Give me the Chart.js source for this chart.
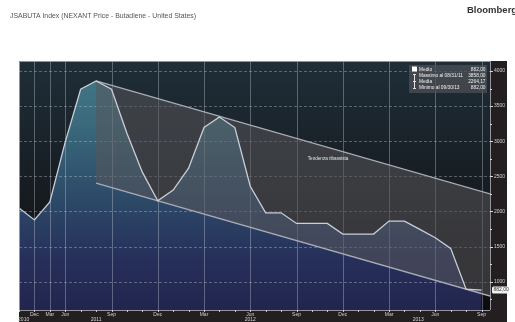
<!DOCTYPE html>
<html>
<head>
<meta charset="utf-8">
<script src="https://cdn.jsdelivr.net/npm/chart.js@4/dist/chart.umd.min.js"></script>
<style>
  html, body { margin: 0; padding: 0; background: #ffffff; }
  canvas { display: block; }
</style>
</head>
<body>
<canvas id="c" width="515" height="322"></canvas>
<script>
// Monthly slots (quarterly until mid-2011, monthly afterwards)
const slotIndex = [0,1,2,3,4,5,6,7,8,9,10,11,12,13,14,15,16,17,18,19,20,21,22,23,24,25,26,27,28,29,30];
const slotDates = ['Sep 2010','Dec 2010','Mar 2011','Jun 2011','Jul 2011','Aug 2011','Sep 2011','Oct 2011',
  'Nov 2011','Dec 2011','Jan 2012','Feb 2012','Mar 2012','Apr 2012','May 2012','Jun 2012','Jul 2012',
  'Aug 2012','Sep 2012','Oct 2012','Nov 2012','Dec 2012','Jan 2013','Feb 2013','Mar 2013','Apr 2013',
  'May 2013','Jun 2013','Jul 2013','Aug 2013','Sep 2013'];
// NEXANT butadiene price, United States
const priceValues = [2050,1880,2135,2990,3740,3858,3740,3115,2560,2152,2304,2617,3195,3346,3195,2360,
  1981,1981,1830,1830,1830,1678,1678,1678,1863,1863,1745,1626,1475,895,882];

// Descending trend channel
const channelX = [5, 30.55];
const channelUpper = [3858, 2250];
const channelLower = [2405, 797];

// Axis ticks
const xTickIndex = [1,2,3,6,9,12,15,18,21,24,27,30];
const xTickLabels = ['Dec','Mar','Jun','Sep','Dec','Mar','Jun','Sep','Dec','Mar','Jun','Sep'];
const yearPos = [0.3,5,15,25.9];
const yearLabels = ['2010','2011','2012','2013'];
const yTicks = [1000,1500,2000,2500,3000,3500,4000];
const yTickLabels = ['1000','1500','2000','2500','3000','3500','4000'];

// Statistics legend
const legendNames = ['Medio','Massimo al 08/31/11','Media','Minimo al 09/30/13'];
const legendValues = ['882,00','3858,00','2264,17','882,00'];
const lastValueLabel = '882,00';
const channelLabel = 'Tendenza ribassista';

const pricePoints = slotIndex.map((x, i) => ({ x: x, y: priceValues[i] }));
const upperPoints = channelX.map((x, i) => ({ x: x, y: channelUpper[i] }));
const lowerPoints = channelX.map((x, i) => ({ x: x, y: channelLower[i] }));

const FONT = '"Liberation Sans", Arial, sans-serif';

function areaGradient(ctx) {
  const ca = ctx.chart.chartArea;
  if (!ca) return '#2c4a66';
  const g = ctx.chart.ctx.createLinearGradient(0, ca.top, 0, ca.bottom);
  g.addColorStop(0.0, '#427a8a');
  g.addColorStop(0.25, '#3a6a7c');
  g.addColorStop(0.55, '#2d4a68');
  g.addColorStop(0.8, '#262f5a');
  g.addColorStop(1.0, '#22254e');
  return g;
}

const decorPlugin = {
  id: 'decor',
  beforeDraw(chart) {
    const ctx = chart.ctx;
    const { left, right, top, bottom } = chart.chartArea;
    ctx.save();
    ctx.fillStyle = '#ffffff';
    ctx.fillRect(0, 0, chart.width, chart.height);

    ctx.fillStyle = '#555555';
    ctx.font = '6.9px ' + FONT;
    ctx.textBaseline = 'middle';
    ctx.textAlign = 'left';
    ctx.fillText('JSABUTA Index (NEXANT Price - Butadiene - United States)', 10, 16);

    ctx.fillStyle = '#333333';
    ctx.font = 'bold 9.5px ' + FONT;
    ctx.fillText('Bloomberg', 467, 10.5);

    const bg = ctx.createLinearGradient(0, top, 0, bottom);
    bg.addColorStop(0, '#1f2e38');
    bg.addColorStop(0.55, '#161b20');
    bg.addColorStop(1, '#0c0c0e');
    ctx.fillStyle = bg;
    ctx.fillRect(left, top, right - left, bottom - top);

    ctx.fillStyle = '#231f20';
    ctx.fillRect(right, top, 17, bottom - top + 12);
    ctx.fillRect(left, bottom, right - left + 17, 12);
    ctx.restore();
  },
  afterDatasetDraw(chart, args) {
    if (args.index !== 3) return;
    const ctx = chart.ctx;
    const { left, right, top, bottom } = chart.chartArea;
    const xs = chart.scales.x, ys = chart.scales.y;
    ctx.save();
    ctx.beginPath();
    ctx.rect(left, top, right - left, bottom - top);
    ctx.clip();
    ctx.lineWidth = 1;
    ctx.strokeStyle = 'rgba(195,200,212,0.38)';
    xTickIndex.forEach(v => {
      const px = Math.round(xs.getPixelForValue(v)) + 0.5;
      ctx.beginPath(); ctx.moveTo(px, top); ctx.lineTo(px, bottom); ctx.stroke();
    });
    ctx.setLineDash([3, 2]);
    yTicks.forEach(v => {
      const py = Math.round(ys.getPixelForValue(v)) + 0.5;
      ctx.beginPath(); ctx.moveTo(left, py); ctx.lineTo(right, py); ctx.stroke();
    });
    ctx.restore();
  },
  afterDraw(chart) {
    const ctx = chart.ctx;
    const { left, right, top, bottom } = chart.chartArea;
    const xs = chart.scales.x, ys = chart.scales.y;
    ctx.save();

    // plot frame
    ctx.strokeStyle = 'rgba(170,175,185,0.8)';
    ctx.lineWidth = 1;
    ctx.beginPath();
    ctx.moveTo(left + 0.5, bottom); ctx.lineTo(left + 0.5, top + 0.5); ctx.lineTo(right, top + 0.5);
    ctx.stroke();
    ctx.beginPath();
    ctx.moveTo(right + 0.5, top); ctx.lineTo(right + 0.5, bottom);
    ctx.moveTo(left, bottom + 0.5); ctx.lineTo(right, bottom + 0.5);
    ctx.strokeStyle = 'rgba(200,200,205,0.7)';
    ctx.stroke();

    // right value axis
    ctx.strokeStyle = '#d8d8d8';
    ctx.fillStyle = '#d4d4d4';
    ctx.font = '5px ' + FONT;
    ctx.textAlign = 'left';
    ctx.textBaseline = 'middle';
    for (let v = 750; v <= 4000; v += 250) {
      const py = Math.round(ys.getPixelForValue(v)) + 0.5;
      const major = yTicks.includes(v);
      ctx.beginPath(); ctx.moveTo(right, py); ctx.lineTo(right + (major ? 3 : 2), py); ctx.stroke();
    }
    yTicks.forEach((v, i) => {
      ctx.fillText(yTickLabels[i], right + 4, ys.getPixelForValue(v));
    });

    // last value marker
    const lastY = ys.getPixelForValue(priceValues[priceValues.length - 1]);
    ctx.fillStyle = '#f2f2f2';
    ctx.beginPath();
    ctx.roundRect(right + 2, lastY - 3.5, 17, 7, 1.5);
    ctx.fill();
    ctx.fillStyle = '#333333';
    ctx.fillText(lastValueLabel, right + 3.5, lastY);

    // bottom date axis
    ctx.strokeStyle = '#c8c8c8';
    slotIndex.forEach(v => {
      const px = Math.round(xs.getPixelForValue(v)) + 0.5;
      ctx.beginPath(); ctx.moveTo(px, bottom); ctx.lineTo(px, bottom + 2); ctx.stroke();
    });
    ctx.fillStyle = '#d0d0d0';
    ctx.textAlign = 'center';
    xTickIndex.forEach((v, i) => {
      ctx.fillText(xTickLabels[i], xs.getPixelForValue(v), bottom + 4.5);
    });
    yearLabels.forEach((t, i) => {
      ctx.fillText(t, xs.getPixelForValue(yearPos[i]), bottom + 10);
    });

    // channel caption
    ctx.fillStyle = '#e4e4e4';
    ctx.font = '4.6px ' + FONT;
    ctx.fillText(channelLabel, xs.getPixelForValue(20.05), ys.getPixelForValue(2758));

    // statistics legend
    const bx = 409, by = 65, bw = 78, bh = 28;
    ctx.fillStyle = 'rgba(78,80,86,0.72)';
    ctx.fillRect(bx, by, bw, bh);
    ctx.fillStyle = '#ffffff';
    ctx.fillRect(412, 66.5, 5, 5);
    ctx.strokeStyle = '#e0e0e0';
    ctx.beginPath();
    ctx.moveTo(414.5, 74); ctx.lineTo(414.5, 89);
    ctx.moveTo(413, 74.5); ctx.lineTo(416, 74.5);
    ctx.moveTo(413, 81.5); ctx.lineTo(416, 81.5);
    ctx.moveTo(413, 88.5); ctx.lineTo(416, 88.5);
    ctx.stroke();
    ctx.font = '4.8px ' + FONT;
    ctx.fillStyle = '#f0f0f0';
    legendNames.forEach((t, i) => {
      const ly = 69.5 + i * 6;
      ctx.textAlign = 'left';
      ctx.fillText(t, 419, ly);
      ctx.textAlign = 'right';
      ctx.fillText(legendValues[i], 485.5, ly);
    });
    ctx.restore();
  }
};

new Chart(document.getElementById('c'), {
  type: 'line',
  data: {
    datasets: [
      { data: pricePoints, order: 0, borderColor: '#c9ced8', borderWidth: 1.3,
        pointRadius: 0, fill: false, tension: 0 },
      { data: upperPoints, order: 1, borderColor: '#a9abb4', borderWidth: 1.3,
        pointRadius: 0, fill: false },
      { data: lowerPoints, order: 2, borderColor: '#a9abb4', borderWidth: 1.3,
        pointRadius: 0, fill: '-1', backgroundColor: 'rgba(88,86,90,0.55)' },
      { data: pricePoints, order: 3, borderWidth: 0, borderColor: 'rgba(0,0,0,0)',
        pointRadius: 0, fill: 'start', backgroundColor: areaGradient, tension: 0 }
    ]
  },
  options: {
    responsive: false,
    animation: false,
    devicePixelRatio: 1,
    layout: { padding: { left: 19, top: 61, right: 25, bottom: 12 } },
    scales: {
      x: { type: 'linear', min: 0, max: 30.55, display: false },
      y: { type: 'linear', min: 598, max: 4142, display: false }
    },
    plugins: {
      legend: { display: false },
      tooltip: { enabled: false },
      filler: { propagate: false }
    }
  },
  plugins: [decorPlugin]
});
</script>
</body>
</html>
